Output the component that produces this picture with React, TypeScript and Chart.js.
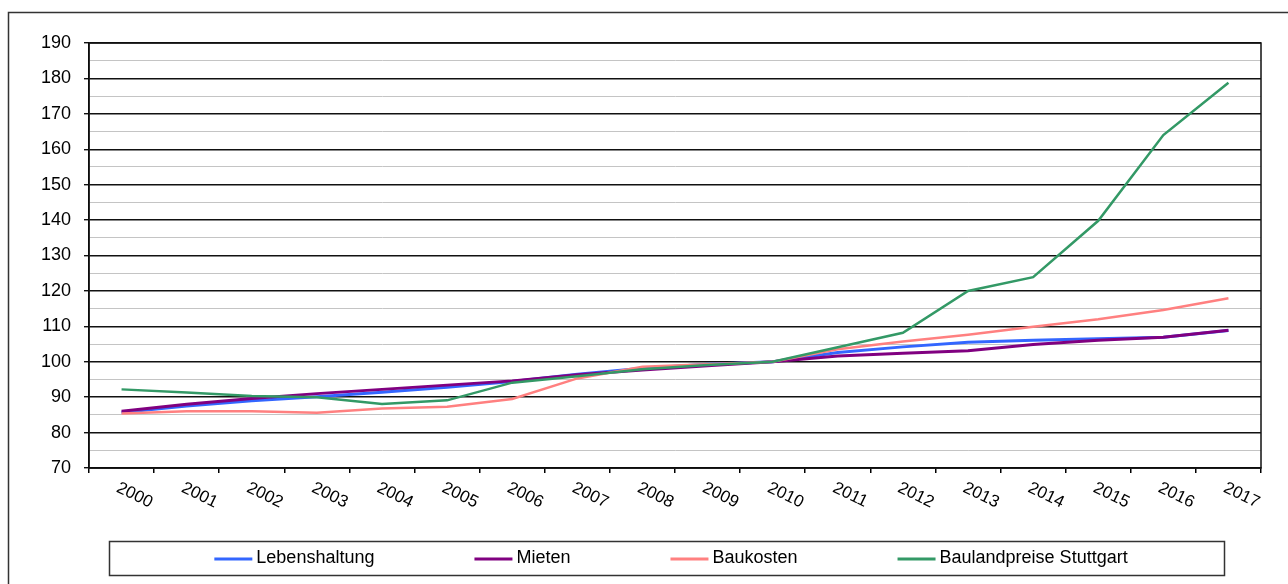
import React, { useEffect, useRef } from "react";
import { Chart, registerables } from "chart.js";

Chart.register(...registerables);

const years = ["2000", "2001", "2002", "2003", "2004", "2005", "2006", "2007", "2008", "2009", "2010", "2011", "2012", "2013", "2014", "2015", "2016", "2017"];
const seriesNames = ["Lebenshaltung", "Mieten", "Baukosten", "Baulandpreise Stuttgart"];
const lebenshaltung = [85.7, 87.5, 89, 90.1, 91.4, 92.8, 94.4, 96.5, 98.2, 99.3, 100, 102.6, 104.2, 105.5, 106.1, 106.5, 106.9, 108.8];
const mieten = [86, 88, 89.6, 91, 92.2, 93.4, 94.6, 96.3, 97.7, 98.9, 100, 101.6, 102.4, 103.1, 104.9, 106.1, 106.9, 108.9];
const baukosten = [85.4, 86, 86, 85.6, 86.8, 87.3, 89.5, 95.3, 98.6, 99.3, 100, 103.5, 105.7, 107.6, 109.9, 112, 114.6, 117.9];
const baulandpreise = [92.2, 91.3, 90.3, 90, 88.1, 89.1, 94.1, 95.9, 97.9, 99.1, 100, 104.1, 108.2, 120, 123.9, 139.8, 164, 178.8];
const yMin = 70;
const yMax = 190;
const yMajorStep = 10;
const yMinorStep = 5;

const FONT = "'Liberation Sans', Arial, sans-serif";

export default function App() {
  const ref = useRef<HTMLCanvasElement>(null);

  useEffect(() => {
    if (!ref.current) return;

    const decorPlugin = {
      id: "decor",
      afterDraw(chart: any) {
        const { ctx, chartArea: a, scales } = chart;
        ctx.save();
        // plot frame
        ctx.strokeStyle = "#111";
        ctx.lineWidth = 1.5;
        ctx.strokeRect(a.left, a.top, a.right - a.left, a.bottom - a.top);
        // outer frame
        ctx.strokeStyle = "#333";
        ctx.lineWidth = 1.5;
        ctx.strokeRect(8.5, 12.5, 1300, 600);
        // x labels (rotated clockwise)
        const xs = scales.x;
        ctx.font = `17px ${FONT}`;
        ctx.fillStyle = "#000";
        ctx.textAlign = "left";
        ctx.textBaseline = "middle";
        years.forEach((lab, i) => {
          const px = xs.getPixelForValue(i);
          ctx.save();
          ctx.translate(px - 4, a.bottom + 19);
          ctx.rotate((26 * Math.PI) / 180);
          ctx.fillText(lab, 0, 0);
          ctx.restore();
        });
        // legend
        ctx.strokeStyle = "#333";
        ctx.lineWidth = 1.5;
        ctx.strokeRect(109.5, 541.5, 1115, 34);
        ctx.font = `18px ${FONT}`;
        const items = chart.data.datasets.map((d: any) => ({ label: d.label, color: d.borderColor }));
        const lineLen = 38, gap = 4, sep = 100;
        const widths = items.map((it: any) => lineLen + gap + ctx.measureText(it.label).width);
        const total = widths.reduce((s: number, w: number) => s + w, 0) + sep * (items.length - 1);
        let x = 671 - total / 2;
        const y = 558;
        items.forEach((it: any, i: number) => {
          ctx.strokeStyle = it.color;
          ctx.lineWidth = 3;
          ctx.beginPath();
          ctx.moveTo(x, y + 1);
          ctx.lineTo(x + lineLen, y + 1);
          ctx.stroke();
          ctx.fillStyle = "#000";
          ctx.fillText(it.label, x + lineLen + gap, y);
          x += widths[i] + sep;
        });
        ctx.restore();
      },
    };

    const chart = new Chart(ref.current, {
      type: "line",
      data: {
        labels: years,
        datasets: [
          { label: seriesNames[0], data: lebenshaltung, borderColor: "#3366FF", backgroundColor: "#3366FF", borderWidth: 3, pointRadius: 0, tension: 0, order: 4 },
          { label: seriesNames[1], data: mieten, borderColor: "#800080", backgroundColor: "#800080", borderWidth: 3, pointRadius: 0, tension: 0, order: 3 },
          { label: seriesNames[2], data: baukosten, borderColor: "#FF8080", backgroundColor: "#FF8080", borderWidth: 2.5, pointRadius: 0, tension: 0, order: 2 },
          { label: seriesNames[3], data: baulandpreise, borderColor: "#339966", backgroundColor: "#339966", borderWidth: 2.5, pointRadius: 0, tension: 0, order: 1 },
        ],
      },
      options: {
        animation: false,
        responsive: false,
        devicePixelRatio: 1,
        layout: { padding: { left: 0, right: 27, top: 43, bottom: 0 }, autoPadding: false },
        plugins: { legend: { display: false }, tooltip: { enabled: false } },
        scales: {
          x: {
            type: "category",
            offset: true,
            grid: { offset: true, drawOnChartArea: false, drawTicks: true, tickLength: 5, color: "#000", lineWidth: 1.5 },
            border: { color: "#000", width: 1.5 },
            ticks: { display: false },
            afterFit: (s: any) => { s.height = 116; },
          },
          y: {
            min: yMin,
            max: yMax,
            ticks: {
              stepSize: yMinorStep,
              maxTicksLimit: 100,
              autoSkip: false,
              color: "#000",
              padding: 13,
              font: { family: FONT, size: 18 },
              callback: (v: any) => (Number(v) % yMajorStep === 0 ? String(v) : ""),
            },
            grid: {
              color: (c: any) => (c.tick && c.tick.value % yMajorStep === 0 ? "#111" : "#c4c4c4"),
              lineWidth: (c: any) => (c.tick && c.tick.value % yMajorStep === 0 ? 1.4 : 1),
              tickColor: (c: any) => (c.tick && c.tick.value % yMajorStep === 0 ? "#111" : "rgba(0,0,0,0)"),
              tickLength: 5,
              drawTicks: true,
            },
            border: { color: "#000", width: 1.5 },
            afterFit: (s: any) => { s.width = 89; },
          },
        },
      },
      plugins: [decorPlugin],
    } as any);

    return () => chart.destroy();
  }, []);

  return (
    <div style={{ position: "absolute", left: 0, top: 0, width: 1288, height: 584, background: "#fff" }}>
      <canvas ref={ref} width={1288} height={584} style={{ display: "block" }} />
    </div>
  );
}
